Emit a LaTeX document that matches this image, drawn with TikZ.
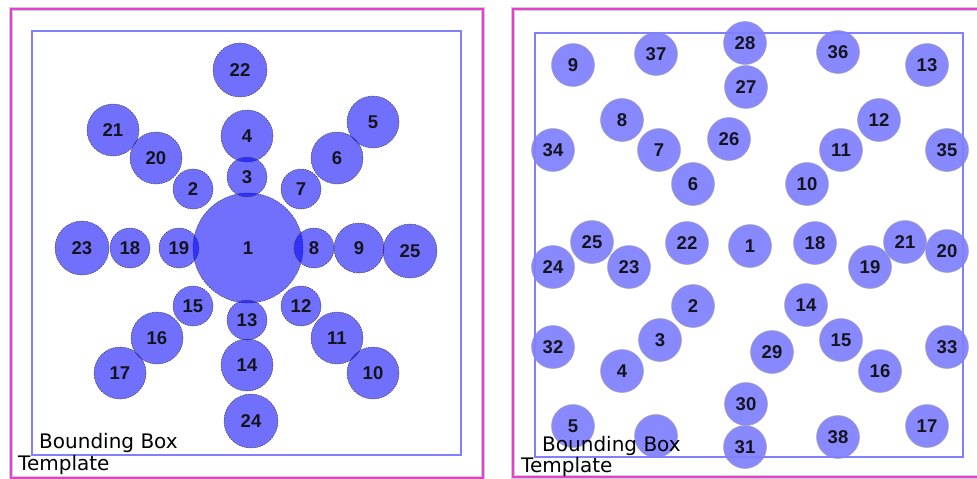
\documentclass[tikz,border=0pt]{standalone}
\usepackage{fontspec}
\setmainfont{Liberation Sans}
\newfontfamily\capfont{DejaVu Sans}
\definecolor{pinkline}{RGB}{235,60,210}
\definecolor{greyline}{RGB}{198,210,200}
\definecolor{bboxline}{RGB}{128,128,255}
\definecolor{rfill}{RGB}{136,136,255}
\definecolor{purefill}{RGB}{0,0,250}
\definecolor{labtxt}{RGB}{20,20,30}
\tikzset{
  lcirc/.style={circle, draw=black!75, dash pattern=on 1.6pt off 1pt, line width=0.5pt,
    fill=purefill, fill opacity=0.56, text opacity=1, text=labtxt, inner sep=0pt,
    font=\bfseries\fontsize{18.5}{18.5}\selectfont},
  lsmall/.style={lcirc, minimum size=40pt},
  lmid/.style={lcirc, minimum size=52pt},
  lbig/.style={lcirc, minimum size=54pt},
  rcirc/.style={circle, draw=black!35, line width=0.5pt, fill=rfill, text=labtxt,
    inner sep=0pt, minimum size=43pt, font=\bfseries\fontsize{18.5}{18.5}\selectfont},
  frameline/.style={line width=4pt, draw=greyline},
  framepink/.style={line width=2pt, draw=pinkline},
  bboxrect/.style={draw=bboxline, line width=1.3pt},
  captext/.style={anchor=base west, inner sep=0pt, text=black, font=\capfont\fontsize{20}{20}\selectfont}
}
\begin{document}
\begin{tikzpicture}[x=1pt,y=-1pt]
\useasboundingbox (0,0) rectangle (977,479);
\fill[white] (0,0) rectangle (977,479);
\begin{scope}
\clip (0,0) rectangle (977,479);
% panel frames
\draw[frameline] (11,9) rectangle (483,478);
\draw[framepink] (11,9) rectangle (483,478);
\draw[frameline] (513,9) rectangle (995,477);
\draw[framepink] (513,9) rectangle (995,477);
\end{scope}
% left bounding box
\draw[bboxrect] (32,31) rectangle (461,455);
% left panel circles
\node[lcirc, minimum size=110pt] (L1) at (248,248) {1};
\node[lbig]   (L22) at (240,70)  {22};
\node[lmid]   (L4)  at (247,136) {4};
\node[lsmall] (L3)  at (247,177) {3};
\node[lsmall] (L2)  at (193,189) {2};
\node[lmid]   (L20) at (156,158) {20};
\node[lmid]   (L21) at (113,130) {21};
\node[lsmall] (L7)  at (301,189) {7};
\node[lmid]   (L6)  at (337,158) {6};
\node[lmid]   (L5)  at (373,122) {5};
\node[lsmall] (L19) at (179,248) {19};
\node[lsmall] (L18) at (130,248) {18};
\node[lbig]   (L23) at (82,248)  {23};
\node[lsmall] (L8)  at (314,248) {8};
\node[lcirc, minimum size=50pt] (L9) at (359,248) {9};
\node[lbig]   (L25) at (410,251) {25};
\node[lsmall] (L15) at (193,306) {15};
\node[lmid]   (L16) at (157,338) {16};
\node[lmid]   (L17) at (120,373) {17};
\node[lsmall] (L13) at (247,320) {13};
\node[lmid]   (L14) at (247,365) {14};
\node[lbig]   (L24) at (251,421) {24};
\node[lsmall] (L12) at (301,306) {12};
\node[lmid]   (L11) at (337,338) {11};
\node[lmid]   (L10) at (373,373) {10};
\node[captext] (LBB) at (39,448) {Bounding Box};
\node[captext] (LT)  at (18,470) {Template};
% right panel circles
\node[rcirc] (R9)  at (573,65)  {9};
\node[rcirc] (R37) at (656,54)  {37};
\node[rcirc] (R28) at (745,43)  {28};
\node[rcirc] (R27) at (746,87)  {27};
\node[rcirc] (R36) at (838,52)  {36};
\node[rcirc] (R13) at (927,65)  {13};
\node[rcirc] (R8)  at (622,120) {8};
\node[rcirc] (R12) at (879,120) {12};
\node[rcirc] (R34) at (553,150) {34};
\node[rcirc] (R7)  at (659,150) {7};
\node[rcirc] (R26) at (729,139) {26};
\node[rcirc] (R11) at (841,150) {11};
\node[rcirc] (R35) at (947,150) {35};
\node[rcirc] (R6)  at (693,184) {6};
\node[rcirc] (R10) at (807,184) {10};
\node[rcirc] (R25) at (592,242) {25};
\node[rcirc] (R22) at (687,243) {22};
\node[rcirc] (R1)  at (750,246) {1};
\node[rcirc] (R18) at (815,243) {18};
\node[rcirc] (R21) at (905,242) {21};
\node[rcirc] (R20) at (947,251) {20};
\node[rcirc] (R24) at (553,267) {24};
\node[rcirc] (R23) at (629,267) {23};
\node[rcirc] (R19) at (870,267) {19};
\node[rcirc] (R2)  at (693,306) {2};
\node[rcirc] (R14) at (806,305) {14};
\node[rcirc] (R3)  at (660,340) {3};
\node[rcirc] (R15) at (841,340) {15};
\node[rcirc] (R32) at (553,347) {32};
\node[rcirc] (R33) at (947,347) {33};
\node[rcirc] (R29) at (772,352) {29};
\node[rcirc] (R4)  at (622,371) {4};
\node[rcirc] (R16) at (880,371) {16};
\node[rcirc] (R30) at (746,404) {30};
\node[rcirc] (R5)  at (573,426) {5};
\node[rcirc] (R0)  at (656,436) {};
\node[rcirc] (R31) at (745,447) {31};
\node[rcirc] (R38) at (838,437) {38};
\node[rcirc] (R17) at (927,426) {17};
% right bounding box
\draw[bboxrect] (535,33) rectangle (963,457);
\node[captext] (RBB) at (542,451) {Bounding Box};
\node[captext] (RT)  at (521,472) {Template};
\end{tikzpicture}
\end{document}
